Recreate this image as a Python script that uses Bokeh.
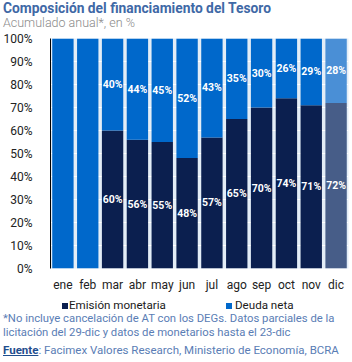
from bokeh.plotting import figure
from bokeh.layouts import column
from bokeh.models import Range1d, FixedTicker, LabelSet, ColumnDataSource, Div
from bokeh.core.properties import value
from bokeh.embed import file_html
from bokeh.resources import INLINE

months = ["ene", "feb", "mar", "abr", "may", "jun", "jul", "ago", "sep", "oct", "nov", "dic"]
emision = [0, 0, 60, 56, 55, 48, 57, 65, 70, 74, 71, 72]
deuda = [100, 100, 40, 44, 45, 52, 43, 35, 30, 26, 29, 28]
y_ticks = [0, 10, 20, 30, 40, 50, 60, 70, 80, 90, 100]
series_names = ["Emisión monetaria", "Deuda neta"]

title = "Composición del financiamiento del Tesoro"
subtitle = "Acumulado anual*, en %"
note1 = "*No incluye cancelación de AT con los DEGs. Datos parciales de la"
note2 = "licitación del 29-dic y datos de monetarios hasta el 23-dic"
src_head = "Fuente"
src_body = ": Facimex Valores Research, Ministerio de Economía, BCRA"

W = 352
TOP_H, MAIN_H, BOT_H = 30, 264, 68
L, R, T, B = 43, 4, 8, 23
FONT = "Roboto"

EM_C, DE_C = "#0b1f4f", "#0068cb"
EM_C_LAST, DE_C_LAST = "#475d88", "#4a8fd6"
NOTE_C = "#5a7db5"

n = len(months)
xs = [i + 0.5 for i in range(n)]
em_cols = [EM_C] * (n - 1) + [EM_C_LAST]
de_cols = [DE_C] * (n - 1) + [DE_C_LAST]
tot = [a + b for a, b in zip(emision, deuda)]


def line(x, yc, text, size, color, weight="normal", lh=16, extra=""):
    return (f'<div style="position:absolute;left:{x}px;top:{yc - lh / 2}px;'
            f'line-height:{lh}px;font-size:{size};color:{color};font-weight:{weight};'
            f'white-space:nowrap;{extra}">{text}</div>')


def box(html, h):
    return Div(text=f'<div style="position:relative;width:{W}px;height:{h}px;'
                    f'font-family:{FONT},sans-serif;overflow:hidden">{html}</div>',
               width=W, height=h, margin=0)


# ---- header
top = box(line(3, 7.5, title, "13.8px", "#3f69a6", "bold", 18)
          + line(3, 23, subtitle, "12.5px", "#8a8a8a", "300"), TOP_H)

# ---- main chart
src = ColumnDataSource(dict(x=xs, em=emision, de=deuda, tot=tot, ec=em_cols, dc=de_cols))
p = figure(width=W, height=MAIN_H, output_backend="svg", toolbar_location=None,
           x_range=Range1d(0, n), y_range=Range1d(0, 100),
           min_border_left=L, min_border_right=R, min_border_top=T, min_border_bottom=B)
p.margin = 0
p.background_fill_color = "#e3edf7"
p.border_fill_color = "white"
p.outline_line_color = None

p.vbar(x="x", width=0.86, bottom=0, top="em", fill_color="ec", line_color=None, source=src,
       legend_label=series_names[0])
p.vbar(x="x", width=0.86, bottom="em", top="tot", fill_color="dc", line_color=None, source=src,
       legend_label=series_names[1])
p.legend.visible = False

lab_em = ColumnDataSource(dict(
    x=[x for x, v in zip(xs, emision) if v > 0],
    y=[v / 2 for v in emision if v > 0],
    t=[f"{v}%" for v in emision if v > 0]))
lab_de = ColumnDataSource(dict(
    x=[x for x, e, d in zip(xs, emision, deuda) if e > 0],
    y=[e + d / 2 for e, d in zip(emision, deuda) if e > 0],
    t=[f"{d}%" for e, d in zip(emision, deuda) if e > 0]))
for s in (lab_em, lab_de):
    p.add_layout(LabelSet(x="x", y="y", text="t", source=s, text_align="center",
                          text_baseline="middle", text_color="white",
                          text_font=value(FONT), text_font_style="bold",
                          text_font_size=value("10.5px")))

p.xaxis.ticker = FixedTicker(ticks=xs)
p.xaxis.major_label_overrides = {x: m for x, m in zip(xs, months)}
p.xaxis.axis_line_color = None
p.xaxis.major_tick_line_color = None
p.xaxis.minor_tick_line_color = None
p.xaxis.major_label_standoff = 3
p.xaxis.major_label_text_font = FONT
p.xaxis.major_label_text_font_size = "12px"
p.xaxis.major_label_text_color = "#222222"

p.yaxis.ticker = FixedTicker(ticks=y_ticks)
p.yaxis.major_label_overrides = {t: f"{t}%" for t in y_ticks}
p.yaxis.axis_line_color = "black"
p.yaxis.axis_line_width = 1
p.yaxis.major_tick_line_color = None
p.yaxis.minor_tick_line_color = None
p.yaxis.major_label_standoff = 12
p.yaxis.major_label_text_font = FONT
p.yaxis.major_label_text_font_size = "12px"
p.yaxis.major_label_text_color = "#222222"

p.xgrid.grid_line_color = None
p.ygrid.grid_line_color = "white"
p.ygrid.grid_line_width = 1

# ---- footer: legend + notes (footer starts at y=302 of the page)
sq = ('<div style="position:absolute;left:{x}px;top:{y}px;width:6px;height:6px;'
      'background:{c}"></div>')
foot = (sq.format(x=62, y=9, c=EM_C)
        + line(69, 11, series_names[0], "11.6px", "#1a1a1a", lh=14)
        + sq.format(x=226, y=9, c=DE_C)
        + line(235, 11, series_names[1], "11.6px", "#1a1a1a", lh=14)
        + line(3, 25.3, note1, "11.3px", NOTE_C, lh=14)
        + line(3, 39.3, note2, "11.3px", NOTE_C, lh=14)
        + line(3, 56.3, f'<span style="font-weight:bold;color:#1f4e8e;text-decoration:underline">'
                        f'{src_head}</span>{src_body}', "11.5px", NOTE_C, lh=14))
bot = box(foot, BOT_H)

layout = column(top, p, bot, spacing=0)
open("out.html", "w").write(file_html(layout, INLINE))
